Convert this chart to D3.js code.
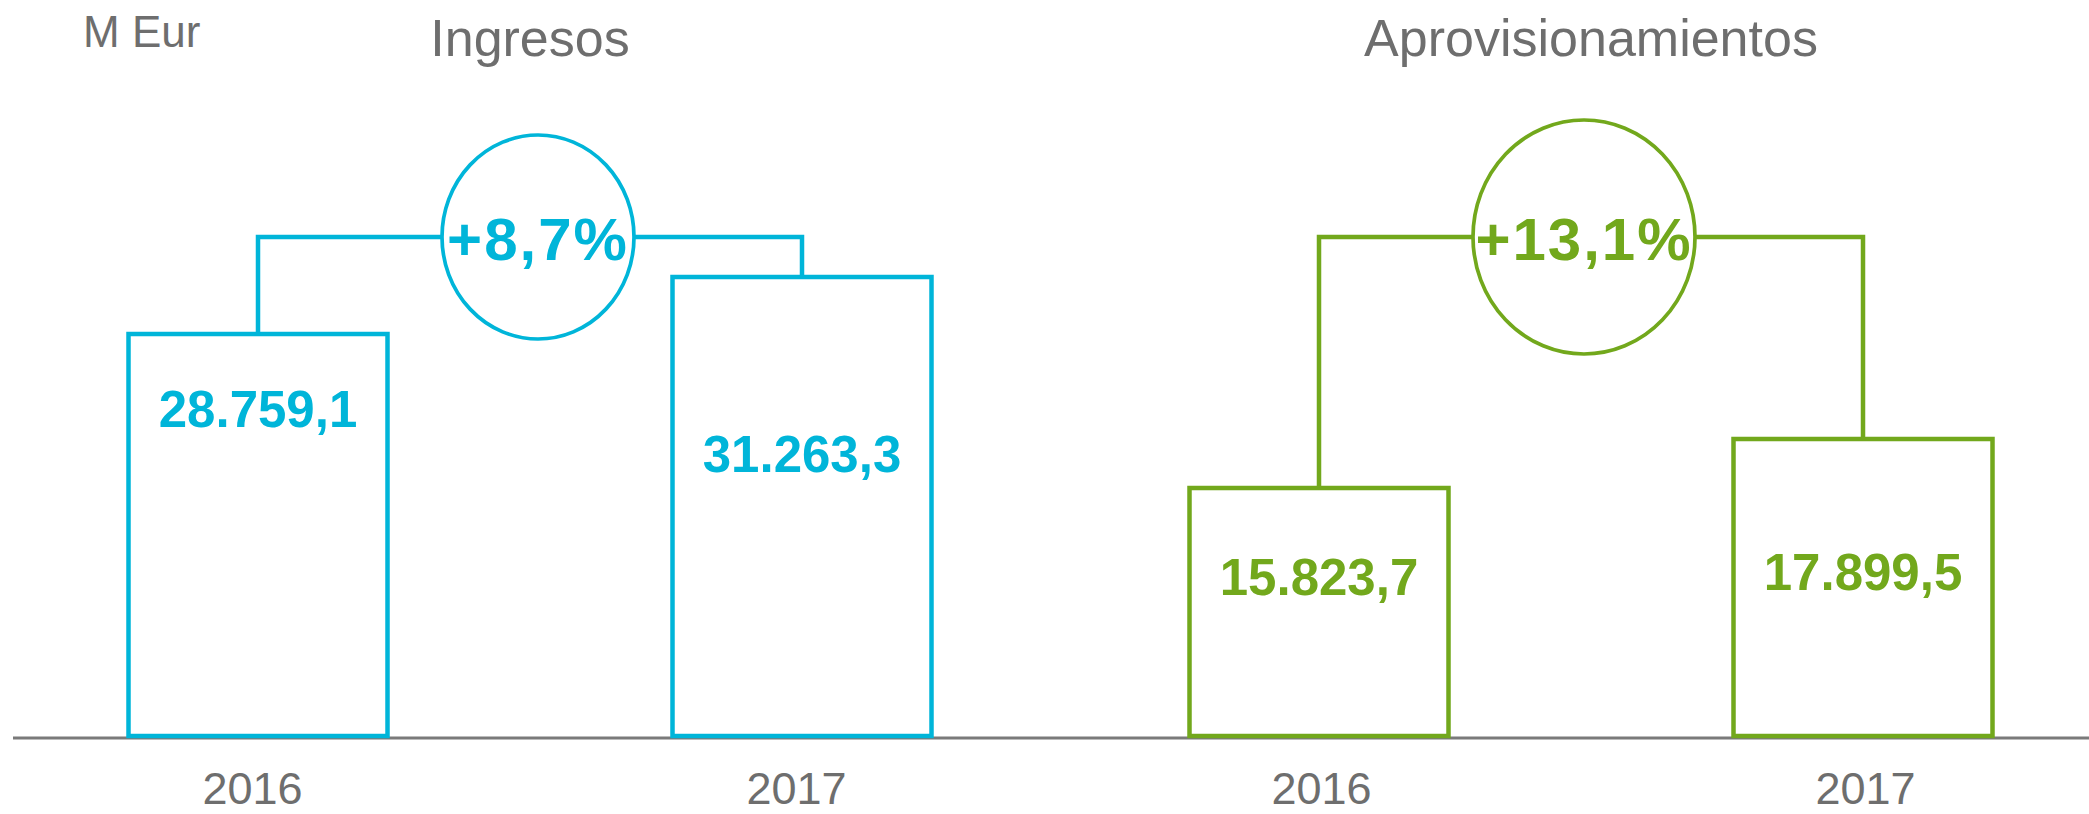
<!DOCTYPE html>
<html>
<head>
    <meta charset="utf-8" />
    <title>Ingresos y Aprovisionamientos</title>
    <style>
        body { margin: 0; background: #fff; }
        svg { display: block; }
        text { font-family: "Liberation Sans", Arial, sans-serif; }
        text.title, text.unit, .years text { fill: #6e6e6e; }
        text.value { font-weight: bold; }
        text.pct { font-weight: bold; letter-spacing: 2px; }
    </style>
    <script src="https://d3js.org/d3.v7.min.js"></script>
</head>
<body>
<script>

// data
let panels = ["Ingresos", "Aprovisionamientos"];
let years = ["2016", "2017"];
let ingresos = [28759.1, 31263.3];
let aprovisionamientos = [15823.7, 17899.5];
let growth = ["+8,7%", "+13,1%"];
let unitLabel = "M Eur";

// layout
let W = 2089, H = 814;
let baseY = 736;          // bottom of the bars
let bracketY = 237;       // connector line
let barW = 259;
let colors = ["#00b5d9", "#72a81c"];
let panelRange = [[258, 802], [1319, 1863]];
// value scales per panel (the bars are not drawn from zero)
let yDomain = [[11100, 31263.3], [5320, 17899.5]];
let yTop = [277, 439];
let labelDy = [[93, 195], [107, 151]];
let bubble = [{dx: 8, rx: 96, ry: 102}, {dx: -7, rx: 111, ry: 117}];
let yearDx = [-6, 2];

let fmt = d3.formatLocale({decimal: ",", thousands: ".", grouping: [3]}).format(",.1f");

let svg = d3.select("body")
    .append("svg")
    .attr("width", W)
    .attr("height", H);

// unit label
svg.append("text")
    .attr("class", "unit")
    .attr("x", 83)
    .attr("y", 47)
    .style("font-size", "44px")
    .text(unitLabel);

// base line
svg.append("line")
    .attr("x1", 13).attr("x2", W)
    .attr("y1", 738).attr("y2", 738)
    .attr("stroke", "#7a7a7a")
    .attr("stroke-width", 3);

[ingresos, aprovisionamientos].forEach((values, p) => {
    let color = colors[p];
    let data = years.map((y, i) => ({year: y, value: values[i], dy: labelDy[p][i]}));

    let x = d3.scalePoint()
        .domain(years)
        .range(panelRange[p]);

    let y = d3.scaleLinear()
        .domain(yDomain[p])
        .range([baseY, yTop[p]]);

    let g = svg.append("g");
    let mid = (panelRange[p][0] + panelRange[p][1]) / 2;

    // title
    g.append("text")
        .attr("class", "title")
        .attr("x", mid)
        .attr("y", 56)
        .attr("text-anchor", "middle")
        .style("font-size", "52px")
        .text(panels[p]);

    // bars
    g.selectAll("rect")
        .data(data)
        .enter()
        .append("rect")
        .attr("x", d => x(d.year) - barW / 2)
        .attr("y", d => y(d.value))
        .attr("width", barW)
        .attr("height", d => baseY - y(d.value))
        .attr("fill", "#fff")
        .attr("stroke", color)
        .attr("stroke-width", 4.5);

    // value labels
    g.selectAll("text.value")
        .data(data)
        .enter()
        .append("text")
        .attr("class", "value")
        .attr("x", d => x(d.year))
        .attr("y", d => y(d.value) + d.dy)
        .attr("text-anchor", "middle")
        .attr("fill", color)
        .style("font-size", "51px")
        .text(d => fmt(d.value));

    // connector
    let a = data[0], b = data[1];
    g.append("path")
        .attr("d", "M" + x(a.year) + "," + y(a.value) +
            "V" + bracketY + "H" + x(b.year) + "V" + y(b.value))
        .attr("fill", "none")
        .attr("stroke", color)
        .attr("stroke-width", 4.5);

    // growth bubble
    let cx = mid + bubble[p].dx;
    g.append("ellipse")
        .attr("cx", cx)
        .attr("cy", bracketY)
        .attr("rx", bubble[p].rx)
        .attr("ry", bubble[p].ry)
        .attr("fill", "#fff")
        .attr("stroke", color)
        .attr("stroke-width", 3.7);

    g.append("text")
        .attr("class", "pct")
        .attr("x", cx)
        .attr("y", bracketY + 23)
        .attr("text-anchor", "middle")
        .attr("fill", color)
        .style("font-size", "60px")
        .text(growth[p]);

    // year labels
    let axis = d3.axisBottom(x).tickSize(0).tickPadding(0);
    let ag = svg.append("g")
        .attr("class", "years")
        .attr("transform", "translate(" + yearDx[p] + ",804)")
        .call(axis);
    ag.select(".domain").remove();
    ag.selectAll("text")
        .attr("dy", 0)
        .attr("y", 0)
        .attr("fill", "#6e6e6e")
        .style("font-size", "45px");
});

</script>
</body>
</html>
